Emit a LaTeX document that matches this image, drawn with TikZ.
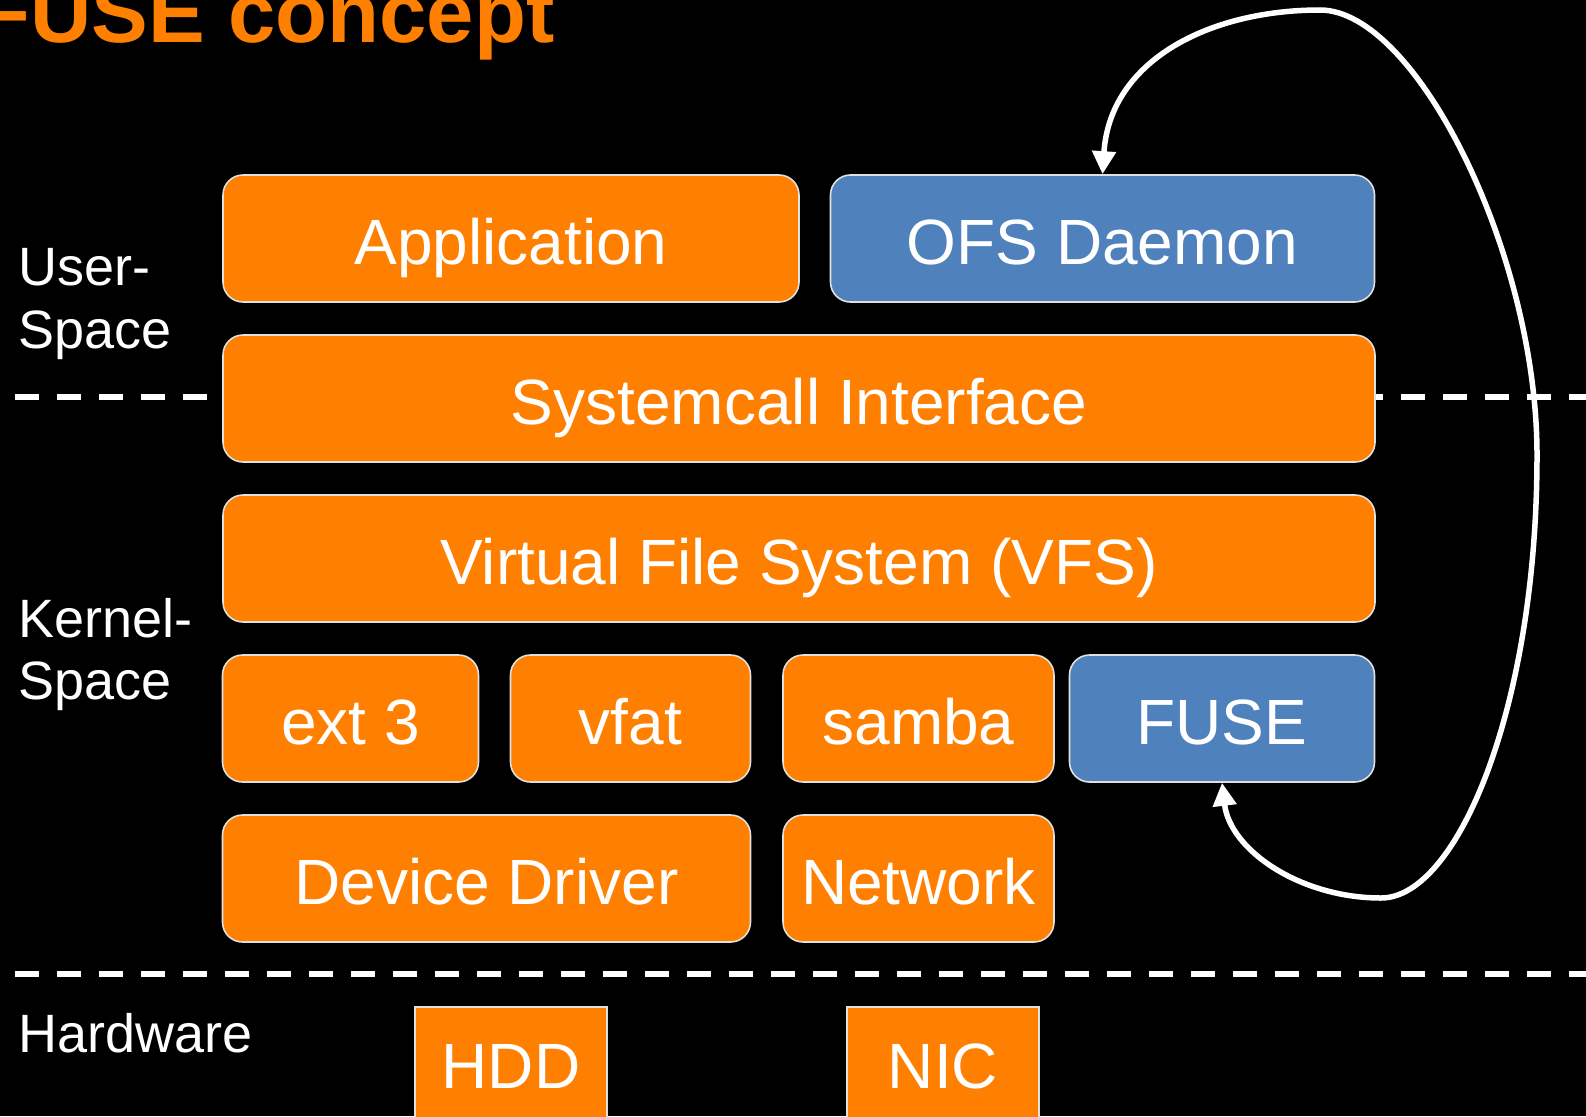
\documentclass[tikz,border=0pt]{standalone}
\usepackage{fontspec}
\setmainfont{Liberation Sans}
\usetikzlibrary{arrows.meta}
\definecolor{fuseorange}{RGB}{255,128,0}
\definecolor{fuseblue}{RGB}{79,129,189}
\begin{document}
\begin{tikzpicture}[x=1pt,y=-1pt,
  stackbox/.style={draw=white!88!black, line width=1.6pt, rounded corners=20pt,
    fill=fuseorange, text=white, inner sep=0pt, minimum height=127pt,
    text height=52pt, text depth=0pt, font=\fontsize{64}{76}\selectfont},
  userbox/.style={stackbox, fill=fuseblue},
  hwbox/.style={draw=white!88!black, line width=1.6pt, fill=fuseorange, text=white,
    inner sep=0pt, minimum width=192pt, text height=82pt, text depth=100pt,
    anchor=north, font=\fontsize{64}{76}\selectfont},
  sidelabel/.style={text=white, anchor=base west, inner sep=0pt,
    font=\fontsize{54}{64}\selectfont},
  sepline/.style={white, line width=6pt, dash pattern=on 24pt off 18pt},
  roundtrip/.style={white, line width=5.5pt,
    {Triangle[length=23pt,width=23pt]}-{Triangle[length=23pt,width=23pt]}}
]
\useasboundingbox (0,0) rectangle (1586,1116);
\fill[black] (0,0) rectangle (1586,1116);
\clip (0,0) rectangle (1586,1116);

% title
\node[anchor=base west, inner sep=0pt, text=fuseorange,
  font=\fontsize{85}{100}\selectfont\bfseries] (title) at (-22,42) {FUSE concept};

% separators
\coordinate (s1a) at (15,397);
\coordinate (s1b) at (1586,397);
\coordinate (s2a) at (15,974);
\coordinate (s2b) at (1586,974);
\draw[sepline] (s1a) -- (s1b);
\draw[sepline] (s2a) -- (s2b);

% side labels
\node[sidelabel] (user1) at (18,285) {User-};
\node[sidelabel] (user2) at (18,348) {Space};
\node[sidelabel] (kern1) at (18,637) {Kernel-};
\node[sidelabel] (kern2) at (18,699) {Space};
\node[sidelabel] (hw) at (18,1052) {Hardware};

% boxes
\node[stackbox, minimum width=576pt] (app) at (511,238.5) {Application};
\node[userbox, minimum width=544pt] (ofs) at (1102.5,238.5) {OFS Daemon};
\node[stackbox, minimum width=1152pt] (sys) at (799,398.5) {Systemcall Interface};
\node[stackbox, minimum width=1152pt] (vfs) at (799,558.5) {Virtual File System (VFS)};
\node[stackbox, minimum width=256pt] (ext) at (350.5,718.5) {ext 3};
\node[stackbox, minimum width=240pt] (vfat) at (630.5,718.5) {vfat};
\node[stackbox, minimum width=271pt] (samba) at (918.5,718.5) {samba};
\node[userbox, minimum width=305pt] (fuse) at (1222,718.5) {FUSE};
\node[stackbox, minimum width=528pt] (dev) at (486.5,878.5) {Device Driver};
\node[stackbox, minimum width=271pt] (net) at (918.5,878.5) {Network};
\node[hwbox] (hdd) at (511,1006) {HDD};
\node[hwbox] (nic) at (943,1006) {NIC};

% FUSE round trip
\draw[roundtrip] (ofs.north) .. controls (1110,60) and (1210,10) .. (1320,10)
  .. controls (1416,10) and (1537,253) .. (1537,455)
  .. controls (1537,708) and (1457,898) .. (1381,898)
  .. controls (1300,898) and (1230,850) .. (fuse.south);
\end{tikzpicture}
\end{document}
